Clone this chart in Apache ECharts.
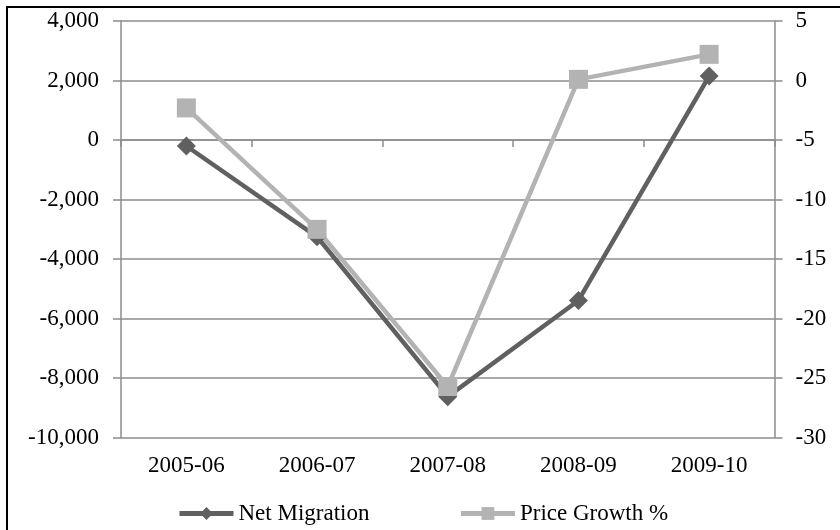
<!DOCTYPE html>
<html>
<head>
<meta charset="utf-8">
<script src="https://cdn.jsdelivr.net/npm/echarts@6/dist/echarts.min.js"></script>
<style>
  html, body { margin: 0; padding: 0; background: #fff; }
  #chart { width: 840px; height: 530px; }
</style>
</head>
<body>
<div id="chart"></div>
<script>
// Years on the category axis
const years = ['2005-06', '2006-07', '2007-08', '2008-09', '2009-10'];
// Net migration (persons), left axis
const netMigration = [-200, -3250, -8620, -5390, 2150];
// House price growth (%), right axis
const priceGrowth = [-2.3, -12.5, -25.7, 0.1, 2.2];

const FONT = 'Liberation Serif, Times New Roman, serif';
const AXIS_GREY = '#8c8c8c';
const DARK = '#606060';
const LIGHT = '#b3b3b3';

const chart = echarts.init(document.getElementById('chart'), null, { renderer: 'canvas' });

chart.setOption({
  animation: false,
  backgroundColor: '#ffffff',
  textStyle: { fontFamily: FONT, color: '#000' },
  graphic: [{
    type: 'rect',
    shape: { x: 7, y: 7, width: 900, height: 600 },
    style: { fill: 'none', stroke: '#000', lineWidth: 2 },
    silent: true
  }],
  grid: { left: 121, right: 65.5, top: 21, bottom: 92.3 },
  legend: {
    left: 172,
    top: 497,
    itemWidth: 54,
    itemHeight: 16,
    itemGap: 89,
    lineStyle: { width: 5 },
    textStyle: { fontFamily: FONT, fontSize: 23, color: '#000' },
    data: ['Net Migration', 'Price Growth %']
  },
  xAxis: [
    {
      type: 'category',
      data: years,
      position: 'bottom',
      axisLine: { show: false, onZero: false },
      axisTick: { show: false },
      axisLabel: { fontFamily: FONT, fontSize: 23, color: '#000', margin: 17 },
      splitLine: { show: false }
    },
    {
      // zero-crossing axis line with boundary ticks
      type: 'category',
      data: years,
      position: 'bottom',
      axisLine: { show: true, onZero: true, onZeroAxisIndex: 0, lineStyle: { color: AXIS_GREY, width: 1.5 } },
      axisTick: { show: true, length: 7, lineStyle: { color: AXIS_GREY, width: 1.5 } },
      axisLabel: { show: false },
      splitLine: { show: false }
    }
  ],
  yAxis: [
    {
      type: 'value',
      min: -10000,
      max: 4000,
      interval: 2000,
      position: 'left',
      axisLine: { show: true, lineStyle: { color: AXIS_GREY, width: 1.5 } },
      axisTick: { show: true, length: 8, lineStyle: { color: AXIS_GREY, width: 1.5 } },
      axisLabel: {
        fontFamily: FONT, fontSize: 23, color: '#000', margin: 22,
        formatter: v => v.toLocaleString('en-US')
      },
      splitLine: { show: true, lineStyle: { color: AXIS_GREY, width: 1.5 } }
    },
    {
      type: 'value',
      min: -30,
      max: 5,
      interval: 5,
      position: 'right',
      axisLine: { show: true, lineStyle: { color: AXIS_GREY, width: 1.5 } },
      axisTick: { show: true, length: 8, lineStyle: { color: AXIS_GREY, width: 1.5 } },
      axisLabel: { fontFamily: FONT, fontSize: 23, color: '#000', margin: 21 },
      splitLine: { show: false }
    }
  ],
  series: [
    {
      name: 'Net Migration',
      type: 'line',
      xAxisIndex: 0,
      yAxisIndex: 0,
      data: netMigration,
      symbol: 'diamond',
      symbolSize: 19,
      lineStyle: { color: DARK, width: 4.5 },
      itemStyle: { color: DARK },
      emphasis: { disabled: true }
    },
    {
      name: 'Price Growth %',
      type: 'line',
      xAxisIndex: 0,
      yAxisIndex: 1,
      data: priceGrowth,
      symbol: 'rect',
      symbolSize: 19,
      lineStyle: { color: LIGHT, width: 4.5 },
      itemStyle: { color: LIGHT },
      emphasis: { disabled: true }
    }
  ]
});
</script>
</body>
</html>
